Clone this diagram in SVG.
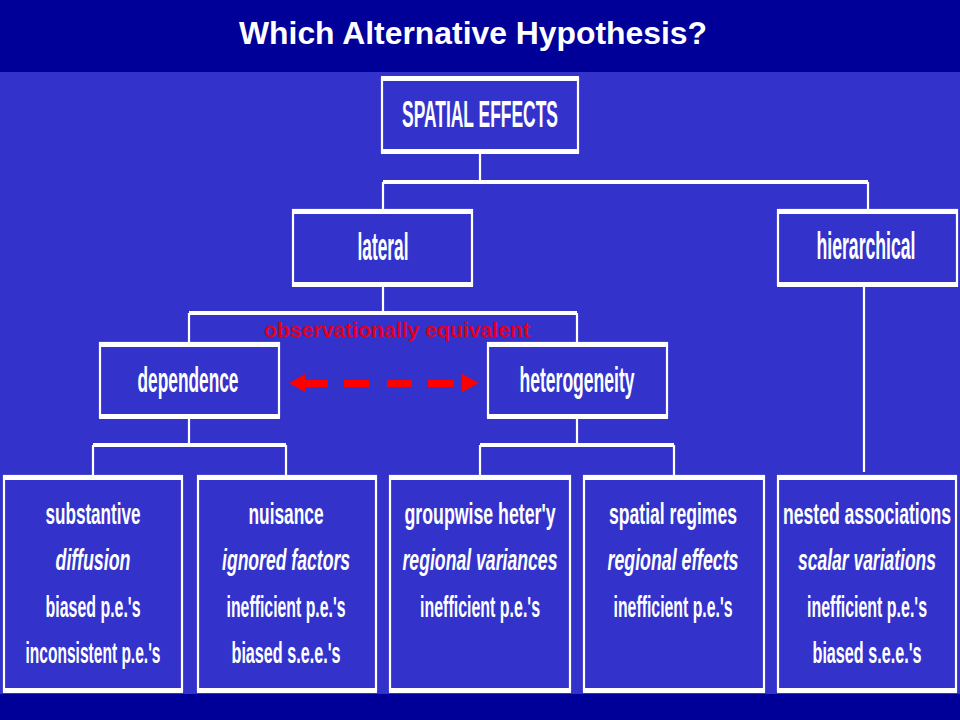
<svg xmlns="http://www.w3.org/2000/svg" width="960" height="720" viewBox="0 0 960 720">
<style>
.box{fill:none;stroke:#fff;stroke-width:2.2}
.bar{fill:#fff}
.ln{stroke:#fff;stroke-width:2.2;fill:none}
.hl{stroke:#fff;stroke-width:4;fill:none}
.t{font-family:"Liberation Sans",Arial,sans-serif;font-weight:bold;fill:#fff;text-anchor:middle}
.b{font-size:17px}
.i{font-style:italic}
.h{font-size:17.4px}
.red{font-family:"Liberation Sans",Arial,sans-serif;font-weight:bold;font-size:20px;fill:#E0001E;text-anchor:middle}
.arr{fill:#FF0000}
</style>
<rect x="0" y="0" width="960" height="720" fill="#3333CC"/>
<rect x="0" y="0" width="960" height="72" fill="#000099"/>
<rect x="0" y="694" width="960" height="26" fill="#000099"/>
<text class="t" x="473" y="44" font-size="32" textLength="468" lengthAdjust="spacingAndGlyphs">Which Alternative Hypothesis?</text>

<g id="connectors">
<path class="ln" d="M480 153V182M383 182V210M868 182V210"/>
<path class="hl" d="M383 182H868"/>
<path class="ln" d="M383 286V313M189 313V343M577 313V343"/>
<path class="hl" d="M189 313H577"/>
<path class="ln" d="M189 417V445M93 445V476M286 445V476"/>
<path class="hl" d="M93 445H286"/>
<path class="ln" d="M577 417V445M480 445V476M674 445V476"/>
<path class="hl" d="M480 445H674"/>
<path class="ln" d="M864 286V472"/>
</g>

<g id="equivalence">
<text class="red" x="397" y="337" textLength="266" lengthAdjust="spacingAndGlyphs">observationally equivalent</text>
<polygon class="arr" points="289,383 305,374 305,392"/>
<rect class="arr" x="304" y="380" width="24" height="7"/>
<rect class="arr" x="344" y="380" width="25" height="7"/>
<rect class="arr" x="387" y="380" width="25" height="7"/>
<rect class="arr" x="428" y="380" width="26" height="7"/>
<polygon class="arr" points="479,383 462,374 462,392"/>
</g>

<g id="spatial-effects">
<rect class="box" x="382" y="78" width="196" height="74"/>
<rect class="bar" x="381" y="76" width="198" height="5"/>
<rect class="bar" x="381" y="149" width="198" height="5"/>
<text class="t h" transform="translate(480 127) scale(1 2.12)" textLength="156" lengthAdjust="spacingAndGlyphs">SPATIAL EFFECTS</text>
</g>

<g id="lateral">
<rect class="box" x="293" y="210" width="179" height="75"/>
<rect class="bar" x="292" y="209" width="181" height="5"/>
<rect class="bar" x="292" y="282" width="181" height="5"/>
<text class="t h" transform="translate(383 260) scale(1 2.25)" textLength="51" lengthAdjust="spacingAndGlyphs">lateral</text>
</g>

<g id="hierarchical">
<rect class="box" x="778" y="210" width="179" height="75"/>
<rect class="bar" x="777" y="209" width="181" height="5"/>
<rect class="bar" x="777" y="282" width="181" height="5"/>
<text class="t h" transform="translate(866 259) scale(1 2.2)" textLength="99" lengthAdjust="spacingAndGlyphs">hierarchical</text>
</g>

<g id="dependence">
<rect class="box" x="100" y="343" width="179" height="74"/>
<rect class="bar" x="99" y="342" width="181" height="5"/>
<rect class="bar" x="99" y="414" width="181" height="5"/>
<text class="t h" transform="translate(188 392) scale(1 1.97)" textLength="101" lengthAdjust="spacingAndGlyphs">dependence</text>
</g>

<g id="heterogeneity">
<rect class="box" x="488" y="343" width="179" height="74"/>
<rect class="bar" x="487" y="342" width="181" height="5"/>
<rect class="bar" x="487" y="414" width="181" height="5"/>
<text class="t h" transform="translate(577 392) scale(1 1.97)" textLength="115" lengthAdjust="spacingAndGlyphs">heterogeneity</text>
</g>

<g id="substantive">
<rect class="box" x="4" y="476" width="178" height="215"/>
<rect class="bar" x="3" y="475" width="180" height="5"/>
<rect class="bar" x="3" y="688" width="180" height="5"/>
<text class="t b" transform="translate(93 524) scale(1 1.7)" textLength="95" lengthAdjust="spacingAndGlyphs">substantive</text>
<text class="t b i" transform="translate(93 570) scale(1 1.7)" textLength="75" lengthAdjust="spacingAndGlyphs">diffusion</text>
<text class="t b" transform="translate(93 617) scale(1 1.7)" textLength="95" lengthAdjust="spacingAndGlyphs">biased p.e.'s</text>
<text class="t b" transform="translate(93 663) scale(1 1.7)" textLength="135" lengthAdjust="spacingAndGlyphs">inconsistent p.e.'s</text>
</g>

<g id="nuisance">
<rect class="box" x="198" y="476" width="178" height="215"/>
<rect class="bar" x="197" y="475" width="180" height="5"/>
<rect class="bar" x="197" y="688" width="180" height="5"/>
<text class="t b" transform="translate(286 524) scale(1 1.7)" textLength="75" lengthAdjust="spacingAndGlyphs">nuisance</text>
<text class="t b i" transform="translate(286 570) scale(1 1.7)" textLength="128" lengthAdjust="spacingAndGlyphs">ignored factors</text>
<text class="t b" transform="translate(286 617) scale(1 1.7)" textLength="119" lengthAdjust="spacingAndGlyphs">inefficient p.e.'s</text>
<text class="t b" transform="translate(286 663) scale(1 1.7)" textLength="109" lengthAdjust="spacingAndGlyphs">biased s.e.e.'s</text>
</g>

<g id="groupwise">
<rect class="box" x="390" y="476" width="180" height="215"/>
<rect class="bar" x="389" y="475" width="182" height="5"/>
<rect class="bar" x="389" y="688" width="182" height="5"/>
<text class="t b" transform="translate(480 524) scale(1 1.7)" textLength="151" lengthAdjust="spacingAndGlyphs">groupwise heter'y</text>
<text class="t b i" transform="translate(480 570) scale(1 1.7)" textLength="155" lengthAdjust="spacingAndGlyphs">regional variances</text>
<text class="t b" transform="translate(480 617) scale(1 1.7)" textLength="120" lengthAdjust="spacingAndGlyphs">inefficient p.e.'s</text>
</g>

<g id="spatial-regimes">
<rect class="box" x="584" y="476" width="180" height="215"/>
<rect class="bar" x="583" y="475" width="182" height="5"/>
<rect class="bar" x="583" y="688" width="182" height="5"/>
<text class="t b" transform="translate(673 524) scale(1 1.7)" textLength="128" lengthAdjust="spacingAndGlyphs">spatial regimes</text>
<text class="t b i" transform="translate(673 570) scale(1 1.7)" textLength="131" lengthAdjust="spacingAndGlyphs">regional effects</text>
<text class="t b" transform="translate(673 617) scale(1 1.7)" textLength="119" lengthAdjust="spacingAndGlyphs">inefficient p.e.'s</text>
</g>

<g id="nested">
<rect class="box" x="778" y="476" width="178" height="215"/>
<rect class="bar" x="777" y="475" width="180" height="5"/>
<rect class="bar" x="777" y="688" width="180" height="5"/>
<text class="t b" transform="translate(867 524) scale(1 1.7)" textLength="168" lengthAdjust="spacingAndGlyphs">nested associations</text>
<text class="t b i" transform="translate(867 570) scale(1 1.7)" textLength="138" lengthAdjust="spacingAndGlyphs">scalar variations</text>
<text class="t b" transform="translate(867 617) scale(1 1.7)" textLength="120" lengthAdjust="spacingAndGlyphs">inefficient p.e.'s</text>
<text class="t b" transform="translate(867 663) scale(1 1.7)" textLength="109" lengthAdjust="spacingAndGlyphs">biased s.e.e.'s</text>
</g>
</svg>
